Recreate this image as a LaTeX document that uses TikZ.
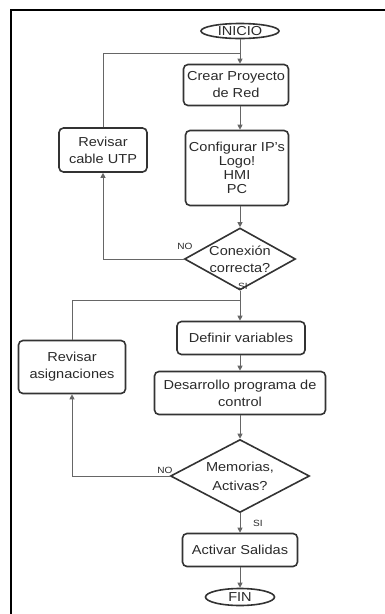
\documentclass[tikz,border=0pt]{standalone}
\usepackage{fontspec}
\setmainfont[FakeStretch=1.12]{Liberation Sans}
\usetikzlibrary{shapes.geometric,arrows.meta}
\definecolor{txt}{HTML}{2A2A2A}
\definecolor{bord}{HTML}{333333}
\definecolor{lin}{HTML}{666666}
\begin{document}
\begin{tikzpicture}[x=1pt,y=-1pt,
  every node/.style={font=\fontsize{13}{17}\selectfont, text=txt},
  box/.style={draw=bord, line width=1.6pt, rounded corners=4.5pt, inner sep=0pt, align=center},
  term/.style={draw=bord, line width=1.6pt, ellipse, inner sep=0pt},
  dec/.style={draw=bord, line width=1.6pt, diamond, inner sep=0pt},
  dectext/.style={align=center, inner sep=0pt},
  conn/.style={draw=lin, line width=0.9pt},
  arr/.style={conn, -{Triangle[width=5pt,length=5pt]}},
  lbl/.style={font=\fontsize{9}{10}\selectfont}
]
\path[use as bounding box] (0,0) rectangle (385,614);
\draw[line width=2.5pt, black] (385,10) -- (11,10) -- (11,614);

\coordinate (col) at (240,0);
\coordinate (j1) at (240,53);
\coordinate (j2) at (240,300);

\node[term, minimum width=78, minimum height=15] (ini) at (240,31) {INICIO};
\node[box, minimum width=105, minimum height=41] (crear) at (236,85) {Crear Proyecto\\de Red};
\node[box, minimum width=103, minimum height=75, font=\fontsize{13}{14}\selectfont] (conf) at (237,168) {Configurar IP's\\Logo!\\HMI\\PC};
\node[box, minimum width=88, minimum height=44] (rcable) at (103,150) {Revisar\\cable UTP};
\node[dec, minimum width=111, minimum height=62] (con) at (240,259) {};
\node[dectext] (cont) at (con.center) {Conexión\\correcta?};
\node[box, minimum width=128, minimum height=33] (def) at (241,338) {Definir variables};
\node[box, minimum width=171, minimum height=43] (des) at (240,393) {Desarrollo programa de\\control};
\node[dec, minimum width=139, minimum height=73] (mem) at (240,476) {};
\node[dectext, font=\fontsize{13}{19}\selectfont] (memt) at (mem.center) {Memorias,\\Activas?};
\node[box, minimum width=115, minimum height=33] (act) at (240,550) {Activar Salidas};
\node[term, minimum width=69, minimum height=17] (fin) at (240,597) {FIN};
\node[box, minimum width=107, minimum height=53] (rasig) at (72,367) {Revisar\\asignaciones};

\node[lbl] (no1) at (185,246) {NO};
\node[lbl] (si1) at (243,286) {SI};
\node[lbl] (no2) at (165,470) {NO};
\node[lbl] (si2) at (258,523) {SI};

\draw[arr] (ini.south) -- (crear.north -| col);
\draw[arr] (crear.south -| col) -- (conf.north -| col);
\draw[arr] (conf.south -| col) -- (con.north);
\draw[arr] (con.west) -| (rcable.south);
\draw[conn] (rcable.north) |- (j1);
\draw[arr] (con.south) -- (def.north -| col);
\draw[conn] (rasig.north) |- (j2);
\draw[arr] (def.south -| col) -- (des.north -| col);
\draw[arr] (des.south -| col) -- (mem.north);
\draw[arr] (mem.west) -| (rasig.south);
\draw[arr] (mem.south) -- (act.north -| col);
\draw[arr] (act.south -| col) -- (fin.north);
\end{tikzpicture}
\end{document}
